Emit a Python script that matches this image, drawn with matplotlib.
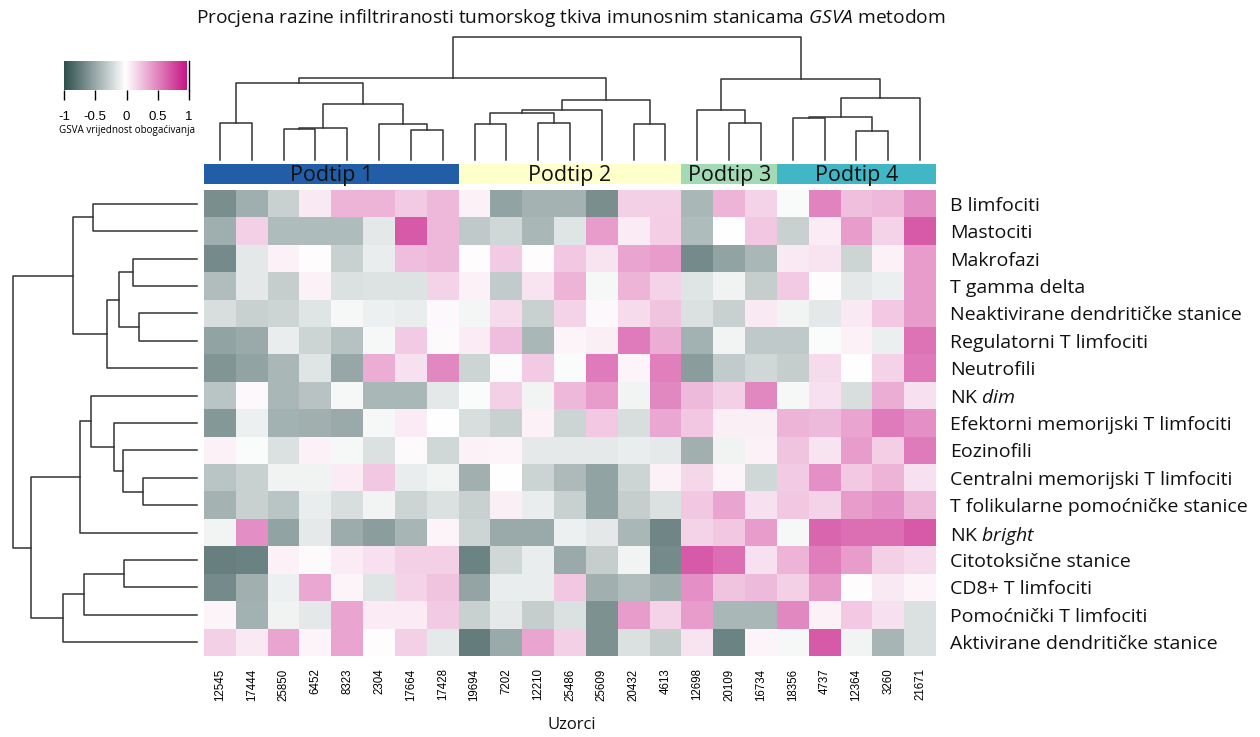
import numpy as np
import matplotlib
matplotlib.use('Agg')
import matplotlib.pyplot as plt
from matplotlib.colors import LinearSegmentedColormap

# uzorci (stupci) i tipovi stanica (retci)
samples = ['12545', '17444', '25850', '6452', '8323', '2304', '17664', '17428',
           '19694', '7202', '12210', '25486', '25609', '20432', '4613',
           '12698', '20109', '16734',
           '18356', '4737', '12364', '3260', '21671']
cell_types = ['B limfociti', 'Mastociti', 'Makrofazi', 'T gamma delta',
              'Neaktivirane dendritičke stanice', 'Regulatorni T limfociti',
              'Neutrofili', 'NK $\\mathit{dim}$', 'Efektorni memorijski T limfociti',
              'Eozinofili', 'Centralni memorijski T limfociti',
              'T folikularne pomoćničke stanice', 'NK $\\mathit{bright}$',
              'Citotoksične stanice', 'CD8+ T limfociti', 'Pomoćnički T limfociti',
              'Aktivirane dendritičke stanice']
subtypes = ['Podtip 1', 'Podtip 2', 'Podtip 3', 'Podtip 4']
subtype_sizes = [8, 7, 3, 5]
subtype_colors = ['#225ea8', '#ffffcc', '#a1dab4', '#41b6c4']

# GSVA vrijednosti (procijenjene sa slike)
gsva = np.array([
    [-0.64, -0.46, -0.26, 0.09, 0.32, 0.32, 0.22, 0.30, 0.06, -0.52, -0.43, -0.43, -0.64, 0.20, 0.20, -0.40, 0.32, 0.19, -0.03, 0.53, 0.27, 0.30, 0.48],
    [-0.46, 0.20, -0.38, -0.38, -0.38, -0.13, 0.70, 0.30, -0.30, -0.22, -0.40, -0.15, 0.42, 0.08, 0.21, -0.38, 0.00, 0.24, -0.26, 0.08, 0.42, 0.19, 0.70],
    [-0.66, -0.13, 0.06, 0.01, -0.26, -0.10, 0.28, 0.30, 0.01, 0.22, 0.01, 0.24, 0.11, 0.39, 0.42, -0.66, -0.52, -0.40, 0.09, 0.11, -0.24, 0.06, 0.42],
    [-0.37, -0.13, -0.28, 0.06, -0.17, -0.16, -0.16, 0.19, 0.06, -0.29, 0.11, 0.32, -0.04, 0.32, 0.19, -0.15, -0.07, -0.28, 0.22, 0.01, -0.13, -0.09, 0.42],
    [-0.18, -0.26, -0.24, -0.15, -0.04, -0.08, -0.10, 0.03, -0.05, 0.15, -0.26, 0.19, 0.03, 0.15, 0.25, -0.17, -0.26, 0.09, -0.06, -0.13, 0.09, 0.23, 0.42],
    [-0.52, -0.48, -0.10, -0.24, -0.35, -0.04, 0.22, 0.02, 0.08, 0.28, -0.40, 0.04, 0.07, 0.56, 0.35, -0.44, -0.06, -0.30, -0.30, -0.02, 0.06, -0.09, 0.60],
    [-0.60, -0.52, -0.40, -0.15, -0.50, 0.35, 0.13, 0.50, -0.24, -0.01, 0.22, -0.02, 0.56, 0.04, 0.54, -0.56, -0.29, -0.22, -0.28, 0.15, 0.00, 0.19, 0.57],
    [-0.33, 0.03, -0.40, -0.34, -0.04, -0.40, -0.40, -0.13, -0.02, 0.20, -0.06, 0.30, 0.42, -0.06, 0.50, 0.29, 0.20, 0.50, -0.04, 0.13, -0.18, 0.35, 0.13],
    [-0.58, -0.08, -0.44, -0.45, -0.48, -0.04, 0.08, 0.00, -0.18, -0.26, 0.06, -0.24, 0.23, -0.18, 0.37, 0.24, 0.07, 0.07, 0.32, 0.29, 0.38, 0.56, 0.47],
    [0.06, -0.02, -0.17, 0.06, -0.04, -0.17, 0.02, -0.22, 0.06, 0.04, -0.12, -0.12, -0.12, -0.10, -0.12, -0.45, -0.07, 0.06, 0.25, 0.11, 0.42, 0.21, 0.56],
    [-0.33, -0.26, -0.07, -0.07, 0.08, 0.24, -0.10, -0.06, -0.45, 0.00, -0.25, -0.39, -0.52, -0.24, 0.06, 0.17, 0.04, -0.22, 0.22, 0.47, 0.23, 0.32, 0.13],
    [-0.43, -0.26, -0.33, -0.10, -0.18, -0.06, -0.24, -0.17, -0.26, 0.07, -0.10, -0.26, -0.52, -0.28, -0.17, 0.24, 0.38, 0.13, 0.24, 0.19, 0.42, 0.47, 0.30],
    [-0.06, 0.48, -0.52, -0.12, -0.47, -0.55, -0.42, 0.04, -0.24, -0.48, -0.48, -0.08, -0.13, -0.40, -0.68, 0.19, 0.24, 0.42, -0.04, 0.65, 0.61, 0.61, 0.70],
    [-0.72, -0.71, 0.06, 0.02, 0.08, 0.13, 0.20, 0.20, -0.70, -0.22, -0.10, -0.48, -0.28, -0.06, -0.66, 0.70, 0.61, 0.13, 0.32, 0.55, 0.42, 0.20, 0.15],
    [-0.66, -0.45, -0.08, 0.37, 0.04, -0.15, 0.19, 0.25, -0.51, -0.10, -0.10, 0.24, -0.45, -0.37, -0.45, 0.47, 0.25, 0.29, 0.20, 0.42, 0.01, 0.09, 0.04],
    [0.04, -0.44, -0.07, -0.13, 0.38, 0.08, 0.08, 0.22, -0.26, -0.12, -0.28, -0.17, -0.62, 0.42, 0.19, 0.42, -0.40, -0.40, 0.50, 0.06, 0.23, 0.13, -0.17],
    [0.20, 0.09, 0.38, 0.04, 0.39, 0.01, 0.20, -0.12, -0.74, -0.48, 0.38, 0.20, -0.62, -0.17, -0.28, 0.11, -0.70, 0.04, -0.04, 0.70, -0.06, -0.42, -0.17],
])

# dendrogrami: (lijevo, desno, visina), listovi su indeksi
col_tree = (
    (((0, 1, 37.3), (((2, 3, 30.7), 4, 31.7), (5, (6, 7, 30.0), 36.0), 55.7), 76.7),
     ((((8, 9, 35.7), (10, 11, 37.3), 46.7), 12, 50.0), (13, 14, 36.0), 60.0),
     81.7),
    ((15, (16, 17, 37.3), 50.0),
     (((18, 19, 41.7), (20, 21, 29.0), 42.7), 22, 62.3),
     81.0),
    123.3)
row_tree = (
    ((0, 1, 104), (((2, 3, 64), (4, 5, 58), 78), 6, 90), 124),
    (((7, (8, (9, (10, 11, 54), 74), 83), 106), 12, 117),
     (((13, 14, 73), 15, 113), 16, 134), 166),
    184)

plt.rcParams['font.family'] = ['Open Sans', 'DejaVu Sans']
plt.rcParams['mathtext.fontset'] = 'custom'
plt.rcParams['mathtext.rm'] = 'Open Sans'
plt.rcParams['mathtext.it'] = 'Open Sans:italic'

cmap = LinearSegmentedColormap.from_list('gsva', ['#2f4f4f', '#ffffff', '#c71585'])

W, H = 1260, 737
def box(x0, y0, x1, y1):
    return [x0 / W, 1 - y1 / H, (x1 - x0) / W, (y1 - y0) / H]

fig = plt.figure(figsize=(12.6, 7.37), dpi=100)

# heatmap
ax = fig.add_axes(box(204, 190, 936, 656))
ax.imshow(gsva, cmap=cmap, vmin=-1, vmax=1, aspect='auto', interpolation='nearest')
ax.set_xticks(range(len(samples)))
ax.set_xticklabels(samples, rotation=90, fontsize=8.3, family='Liberation Sans', va='top')
ax.set_yticks(range(len(cell_types)))
ax.set_yticklabels(cell_types, fontsize=14, color='#111111')
ax.yaxis.tick_right()
ax.tick_params(length=0)
ax.tick_params(axis='x', pad=9)
ax.tick_params(axis='y', pad=10)
for s in ax.spines.values():
    s.set_visible(False)

def draw_tree(a, node, orient):
    if isinstance(node, int):
        return node, 0.0
    l, r, h = node
    pl, hl = draw_tree(a, l, orient)
    pr, hr = draw_tree(a, r, orient)
    if orient == 'top':
        a.plot([pl, pl, pr, pr], [hl, h, h, hr], color='#333333', lw=1.1, clip_on=False)
    else:
        a.plot([hl, h, h, hr], [pl, pl, pr, pr], color='#333333', lw=1.1, clip_on=False)
    return (pl + pr) / 2, h

# gornji dendrogram
axt = fig.add_axes(box(204, 36.7, 936, 160))
draw_tree(axt, col_tree, 'top')
axt.set_xlim(-0.5, len(samples) - 0.5)
axt.set_ylim(0, 123.3)
axt.axis('off')

# lijevi dendrogram
axl = fig.add_axes(box(13, 190, 197, 656))
draw_tree(axl, row_tree, 'left')
axl.set_xlim(184, 0)
axl.set_ylim(len(cell_types) - 0.5, -0.5)
axl.axis('off')

# podtipovi
axa = fig.add_axes(box(204, 164, 936, 184))
start = 0
for name, n, c in zip(subtypes, subtype_sizes, subtype_colors):
    axa.barh(0, n, left=start, height=1, color=c)
    axa.text(start + n / 2, -0.05, name, ha='center', va='center', fontsize=15.5, color='#111111')
    start += n
axa.set_xlim(0, sum(subtype_sizes))
axa.set_ylim(-0.5, 0.5)
axa.axis('off')

# legenda boja
axc = fig.add_axes(box(64, 61, 189, 90))
grad = np.linspace(-1, 1, 256).reshape(1, -1)
axc.imshow(grad, cmap=cmap, vmin=-1, vmax=1, aspect='auto', extent=(-1, 0.96, 0, 1))
axc.set_xlim(-1, 1)
axc.set_ylim(0, 1)
axc.set_yticks([])
axc.set_xticks([-1, -0.5, 0, 0.5, 1])
axc.set_xticklabels(['-1', '-0.5', '0', '0.5', '1'], fontsize=9.5, family='Liberation Sans')
axc.tick_params(axis='x', length=7, width=1, pad=8)
for k in ['top', 'left', 'bottom']:
    axc.spines[k].set_visible(False)
axc.spines['right'].set_linewidth(1)
fig.text(127 / W, 1 - 131 / H, 'GSVA vrijednost obogaćivanja', ha='center', va='center', fontsize=7.1)

fig.text(571 / W, 1 - 18 / H,
         'Procjena razine infiltriranosti tumorskog tkiva imunosnim stanicama $\\mathit{GSVA}$ metodom',
         ha='center', va='center', fontsize=13.8, color='#111111')
fig.text(572 / W, 1 - 725 / H, 'Uzorci', ha='center', va='center', fontsize=12, color='#111111')

fig.savefig('out.png', dpi=100)
